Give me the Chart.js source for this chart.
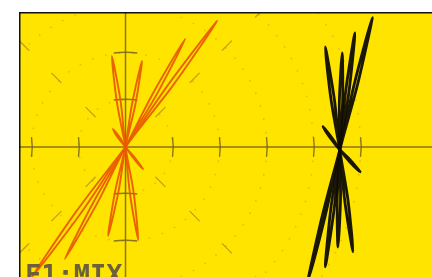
<!DOCTYPE html>
<html>
<head>
<meta charset="utf-8">
<script src="https://cdn.jsdelivr.net/npm/chart.js@4/dist/chart.umd.min.js"></script>
<style>
  html, body { margin: 0; padding: 0; background: #fff; }
  canvas { display: block; }
</style>
</head>
<body>
<canvas id="c" width="432" height="277"></canvas>
<script>
// ---- graticule values (divisions) ----
const xTicks = [-2, -1, 1, 2, 3, 4, 5];
const yTicks = [-2, -1, 1, 2];
const ringRadii = [1, 2, 3, 4, 5];
const diagDashRadii = [1.05, 2.08, 3.05, 4.05];
const label = "F1:MIX";

// ---- red (orange) trace loops ----
const redLoop1 = [[0,0],[0.94,1.37],[1.95,2.68],[1.01,1.31],[0,0],[-0.96,-1.42],[-2.0,-2.78],[-1.04,-1.36],[0,0]];
const redLoop2 = [[0,0],[0.60,1.17],[1.27,2.30],[0.67,1.13],[0,0],[-0.61,-1.21],[-1.29,-2.38],[-0.68,-1.17],[0,0]];
const redLoop3 = [[0,0],[0.14,0.92],[0.35,1.83],[0.21,0.91],[0,0],[-0.15,-0.95],[-0.37,-1.89],[-0.22,-0.94],[0,0]];
const redLoop4 = [[0,0],[-0.185,0.964],[-0.29,1.94],[-0.105,0.976],[0,0],[0.175,-0.984],[0.27,-1.98],[0.095,-0.996],[0,0]];
const redLoop5 = [[0,0],[-0.12,0.20],[-0.27,0.38],[-0.15,0.18],[0,0],[0.20,-0.23],[0.37,-0.47],[0.17,-0.24],[0,0]];

// ---- black trace loops ----
const blackLoop1 = [[4.56,-0.06],[4.87,1.35],[5.25,2.75],[4.94,1.34],[4.56,-0.06],[4.25,-1.46],[3.88,-2.85],[4.19,-1.45],[4.56,-0.06]];
const blackLoop2 = [[4.56,-0.06],[4.685,1.19],[4.88,2.43],[4.755,1.18],[4.56,-0.06],[4.44,-1.31],[4.25,-2.55],[4.37,-1.30],[4.56,-0.06]];
const blackLoop3 = [[4.56,-0.06],[4.55,0.97],[4.61,2.00],[4.62,0.97],[4.56,-0.06],[4.575,-1.095],[4.52,-2.13],[4.505,-1.095],[4.56,-0.06]];
const blackLoop4 = [[4.56,-0.06],[4.37,1.03],[4.25,2.13],[4.44,1.04],[4.56,-0.06],[4.735,-1.14],[4.84,-2.23],[4.665,-1.15],[4.56,-0.06]];
const blackLoop5 = [[4.56,-0.06],[4.39,0.195],[4.20,0.43],[4.37,0.175],[4.56,-0.06],[4.79,-0.285],[4.99,-0.53],[4.76,-0.305],[4.56,-0.06]];

const redLoops = [redLoop1, redLoop2, redLoop3, redLoop4, redLoop5];
const blackLoops = [blackLoop1, blackLoop2, blackLoop3, blackLoop4, blackLoop5];

const toPts = arr => arr.map(p => ({ x: p[0], y: p[1] }));

const datasets = [];
redLoops.forEach(l => datasets.push({
  data: toPts(l), showLine: true, pointRadius: 0, tension: 0.3,
  borderColor: 'rgba(232,88,0,0.92)', borderWidth: 1.9, fill: false
}));
blackLoops.forEach(l => datasets.push({
  data: toPts(l), showLine: true, pointRadius: 0, tension: 0.3,
  borderColor: 'rgba(15,12,5,0.95)', borderWidth: 2.8, fill: false
}));

const graticule = {
  id: 'graticule',
  beforeDraw(chart) {
    const { ctx, chartArea: a, scales: { x, y } } = chart;
    ctx.save();
    ctx.fillStyle = '#ffffff';
    ctx.fillRect(0, 0, chart.width, chart.height);
    ctx.fillStyle = '#ffe400';
    ctx.fillRect(a.left, a.top, a.right - a.left, a.bottom - a.top);
    ctx.beginPath();
    ctx.rect(a.left, a.top, a.right - a.left, a.bottom - a.top);
    ctx.clip();
    const cx = x.getPixelForValue(0), cy = y.getPixelForValue(0);
    const unit = x.getPixelForValue(1) - cx;
    // dotted rings
    ctx.strokeStyle = 'rgba(200,160,20,0.5)';
    ctx.lineWidth = 1.6;
    ctx.setLineDash([1.6, 12]);
    ringRadii.forEach(r => { ctx.beginPath(); ctx.arc(cx, cy, r * unit, 0, Math.PI * 2); ctx.stroke(); });
    ctx.setLineDash([]);
    // diagonal dashes
    ctx.strokeStyle = 'rgba(175,140,30,0.8)';
    ctx.lineWidth = 1.3;
    const c45 = Math.SQRT1_2;
    diagDashRadii.forEach(r => {
      [[1,1],[-1,1],[-1,-1],[1,-1]].forEach(([sx, sy]) => {
        const r0 = r - 0.15, r1 = r + 0.15;
        ctx.beginPath();
        ctx.moveTo(x.getPixelForValue(sx * r0 * c45), y.getPixelForValue(sy * r0 * c45));
        ctx.lineTo(x.getPixelForValue(sx * r1 * c45), y.getPixelForValue(sy * r1 * c45));
        ctx.stroke();
      });
    });
    // axes
    ctx.strokeStyle = 'rgba(125,105,30,0.9)';
    ctx.lineWidth = 1.5;
    ctx.beginPath();
    ctx.moveTo(a.left, cy); ctx.lineTo(a.right, cy);
    ctx.moveTo(cx, a.top); ctx.lineTo(cx, a.bottom);
    ctx.stroke();
    ctx.lineWidth = 1.4;
    xTicks.forEach(t => {
      const px = x.getPixelForValue(t);
      ctx.beginPath();
      ctx.moveTo(px, y.getPixelForValue(0.21));
      ctx.quadraticCurveTo(px + 1.5, cy, px, y.getPixelForValue(-0.21));
      ctx.stroke();
    });
    yTicks.forEach(t => {
      const py = y.getPixelForValue(t);
      ctx.beginPath();
      ctx.moveTo(x.getPixelForValue(-0.25), py);
      ctx.quadraticCurveTo(cx, py - 1.5, x.getPixelForValue(0.25), py);
      ctx.stroke();
    });
    ctx.restore();
  },
  afterDraw(chart) {
    const { ctx, chartArea: a } = chart;
    ctx.save();
    ctx.beginPath();
    ctx.rect(a.left, a.top, a.right - a.left, a.bottom - a.top);
    ctx.clip();
    ctx.fillStyle = 'rgba(100,90,62,0.95)';
    ctx.font = 'bold 27px "DejaVu Sans Mono"';
    ctx.textBaseline = 'alphabetic';
    ctx.fillText(label, a.left + 5, a.bottom + 7);
    ctx.restore();
    // frame
    ctx.save();
    ctx.strokeStyle = '#111';
    ctx.lineWidth = 1.5;
    ctx.beginPath();
    ctx.moveTo(a.left - 0.25, chart.height);
    ctx.lineTo(a.left - 0.25, a.top - 0.25);
    ctx.lineTo(chart.width, a.top - 0.25);
    ctx.stroke();
    ctx.restore();
  }
};

new Chart(document.getElementById('c'), {
  type: 'scatter',
  data: { datasets },
  options: {
    responsive: false,
    animation: false,
    devicePixelRatio: 1,
    layout: { padding: { left: 20, top: 13, right: 0, bottom: 0 } },
    plugins: { legend: { display: false }, tooltip: { enabled: false } },
    scales: {
      x: { type: 'linear', display: false, min: -2.245, max: 6.521 },
      y: { type: 'linear', display: false, min: -2.766, max: 2.851 }
    }
  },
  plugins: [graticule]
});
</script>
</body>
</html>
